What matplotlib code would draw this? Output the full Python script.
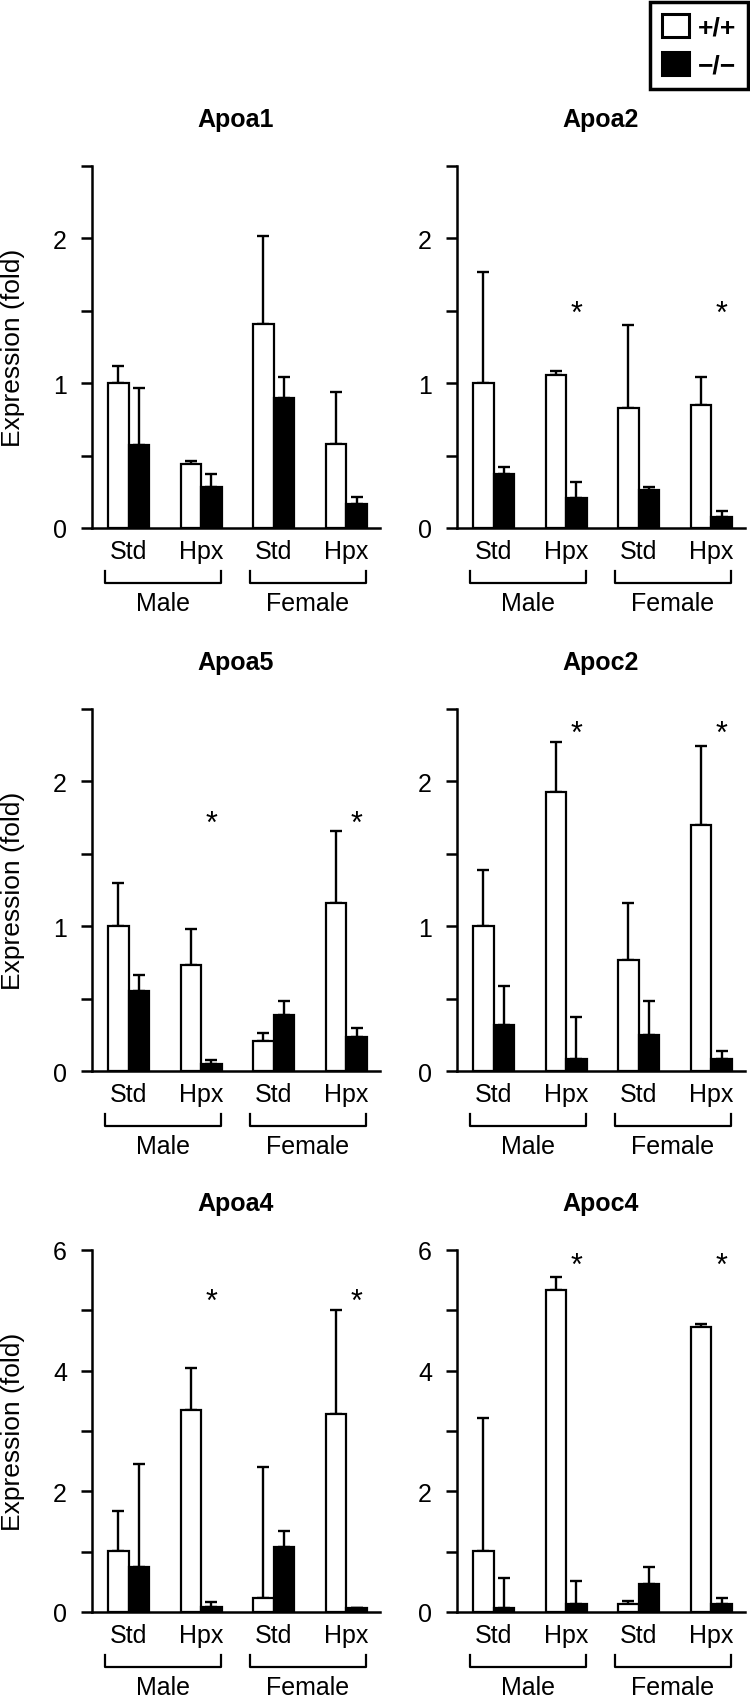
import matplotlib
matplotlib.use("Agg")
import matplotlib.pyplot as plt
import matplotlib.transforms as mtransforms
from matplotlib.lines import Line2D
import numpy as np

plt.rcParams['font.family'] = ['Liberation Sans', 'DejaVu Sans']

# ---------------- data ----------------
genes = ["Apoa1", "Apoa2", "Apoa5", "Apoc2", "Apoa4", "Apoc4"]
conditions = ["Std", "Hpx", "Std", "Hpx"]
sexes = ["Male", "Female"]
genotypes = ["+/+", "\u2212/\u2212"]

# order of groups: Male Std, Male Hpx, Female Std, Female Hpx
apoa1_wt = [1.00, 0.44, 1.41, 0.58]
apoa1_wt_err = [0.12, 0.025, 0.61, 0.36]
apoa1_ko = [0.575, 0.28, 0.90, 0.167]
apoa1_ko_err = [0.39, 0.09, 0.14, 0.045]

apoa2_wt = [1.00, 1.06, 0.83, 0.85]
apoa2_wt_err = [0.77, 0.025, 0.57, 0.19]
apoa2_ko = [0.37, 0.21, 0.26, 0.075]
apoa2_ko_err = [0.05, 0.11, 0.02, 0.045]

apoa5_wt = [1.00, 0.73, 0.21, 1.16]
apoa5_wt_err = [0.30, 0.25, 0.05, 0.50]
apoa5_ko = [0.55, 0.05, 0.39, 0.235]
apoa5_ko_err = [0.115, 0.025, 0.09, 0.065]

apoc2_wt = [1.00, 1.93, 0.77, 1.70]
apoc2_wt_err = [0.385, 0.34, 0.39, 0.545]
apoc2_ko = [0.32, 0.08, 0.25, 0.08]
apoc2_ko_err = [0.27, 0.29, 0.23, 0.06]

apoa4_wt = [1.01, 3.34, 0.23, 3.28]
apoa4_wt_err = [0.67, 0.71, 2.17, 1.72]
apoa4_ko = [0.74, 0.08, 1.07, 0.06]
apoa4_ko_err = [1.71, 0.09, 0.28, 0.0]

apoc4_wt = [1.01, 5.33, 0.13, 4.73]
apoc4_wt_err = [2.20, 0.22, 0.05, 0.04]
apoc4_ko = [0.07, 0.13, 0.46, 0.13]
apoc4_ko_err = [0.50, 0.38, 0.28, 0.11]

# significance marks: (group index, y position)
apoa1_sig = []
apoa2_sig = [(1, 1.54), (3, 1.54)]
apoa5_sig = [(1, 1.77), (3, 1.77)]
apoc2_sig = [(1, 2.39), (3, 2.39)]
apoa4_sig = [(1, 5.30), (3, 5.30)]
apoc4_sig = [(1, 5.89), (3, 5.89)]

ymax = [2.5, 2.5, 2.5, 2.5, 6, 6]
ytick_step = [0.5, 0.5, 0.5, 0.5, 1, 1]
ylabel_step = [1, 1, 1, 1, 2, 2]

panels = [
    (apoa1_wt, apoa1_wt_err, apoa1_ko, apoa1_ko_err, apoa1_sig),
    (apoa2_wt, apoa2_wt_err, apoa2_ko, apoa2_ko_err, apoa2_sig),
    (apoa5_wt, apoa5_wt_err, apoa5_ko, apoa5_ko_err, apoa5_sig),
    (apoc2_wt, apoc2_wt_err, apoc2_ko, apoc2_ko_err, apoc2_sig),
    (apoa4_wt, apoa4_wt_err, apoa4_ko, apoa4_ko_err, apoa4_sig),
    (apoc4_wt, apoc4_wt_err, apoc4_ko, apoc4_ko_err, apoc4_sig),
]

# ---------------- layout ----------------
W, H = 750, 1699
fig = plt.figure(figsize=(W / 100, H / 100), dpi=100)

col_x = [92 / W, 457 / W]
ax_w = 288 / W
row_zero = [529, 1072, 1613]
ax_h = 362 / H

FS = 18
LW = 1.8
bw = 0.283
x = np.arange(4)

handles = None
for i, (gene, (wt, wte, ko, koe, sig)) in enumerate(zip(genes, panels)):
    r, c = divmod(i, 2)
    ax = fig.add_axes([col_x[c], 1 - row_zero[r] / H, ax_w, ax_h])
    b1 = ax.bar(x - bw / 2, wt, bw, color='white', edgecolor='black', linewidth=1.6, zorder=2)
    b2 = ax.bar(x + bw / 2, ko, bw, color='black', edgecolor='black', linewidth=1.6, zorder=2)
    handles = (b1, b2)
    ax.errorbar(x - bw / 2, wt, yerr=[np.zeros(4), wte], fmt='none', ecolor='black',
                elinewidth=1.7, capsize=4.5, capthick=1.7, zorder=1)
    ax.errorbar(x + bw / 2, ko, yerr=[np.zeros(4), koe], fmt='none', ecolor='black',
                elinewidth=1.7, capsize=4.5, capthick=1.7, zorder=1)
    for g, yv in sig:
        ax.annotate('*', xy=(g + bw / 2, yv), xytext=(0, -12.5), textcoords='offset points',
                    ha='center', va='baseline', fontsize=22)

    ax.set_xlim(-0.505, 3.465)
    ax.set_ylim(0, ymax[i])
    ticks = np.arange(0, ymax[i] + 1e-9, ytick_step[i])
    labels = [('%d' % t) if abs(t / ylabel_step[i] - round(t / ylabel_step[i])) < 1e-9 else ''
              for t in ticks]
    ax.set_yticks(ticks)
    ax.set_yticklabels(labels)
    ax.set_xticks(x)
    ax.set_xticklabels(conditions)
    ax.tick_params(axis='x', length=0, labelsize=FS, pad=8)
    ax.tick_params(axis='y', length=8, width=LW, labelsize=FS, pad=10, direction='out')
    for s in ['top', 'right']:
        ax.spines[s].set_visible(False)
    for s in ['left', 'bottom']:
        ax.spines[s].set_linewidth(LW)
        ax.spines[s].set_capstyle('projecting')
    ax.set_title(gene, fontsize=FS, fontweight='bold', pad=29)
    if c == 0:
        ax.set_ylabel("Expression (fold)", fontsize=FS + 1)
        ax.yaxis.set_label_coords(-0.233, 0.5)

    # sex brackets
    trans = mtransforms.blended_transform_factory(ax.transData, ax.transAxes)
    ytop, ybot = -43 / 362, -55 / 362
    for k, sex in enumerate(sexes):
        x0 = 2 * k - 0.33
        x1 = 2 * k + 1.27
        ax.add_line(Line2D([x0, x0, x1, x1], [ytop, ybot, ybot, ytop], transform=trans,
                           color='black', linewidth=1.6, clip_on=False))
        ax.text((x0 + x1) / 2, -75 / 362, sex, transform=trans, ha='center', va='center',
                fontsize=FS)

leg = fig.legend(handles, genotypes, loc='upper right', bbox_to_anchor=(748 / W, 1 - 3 / H),
                 frameon=True, fancybox=False, edgecolor='black', framealpha=1,
                 borderaxespad=0, handlelength=1.0, handleheight=1.0, handletextpad=0.35,
                 labelspacing=0.45, borderpad=0.45, prop={'size': FS + 1, 'weight': 'bold'})
leg.get_frame().set_linewidth(2.5)
for p in leg.get_patches():
    p.set_linewidth(2.2)

fig.savefig("out.png", dpi=100)
